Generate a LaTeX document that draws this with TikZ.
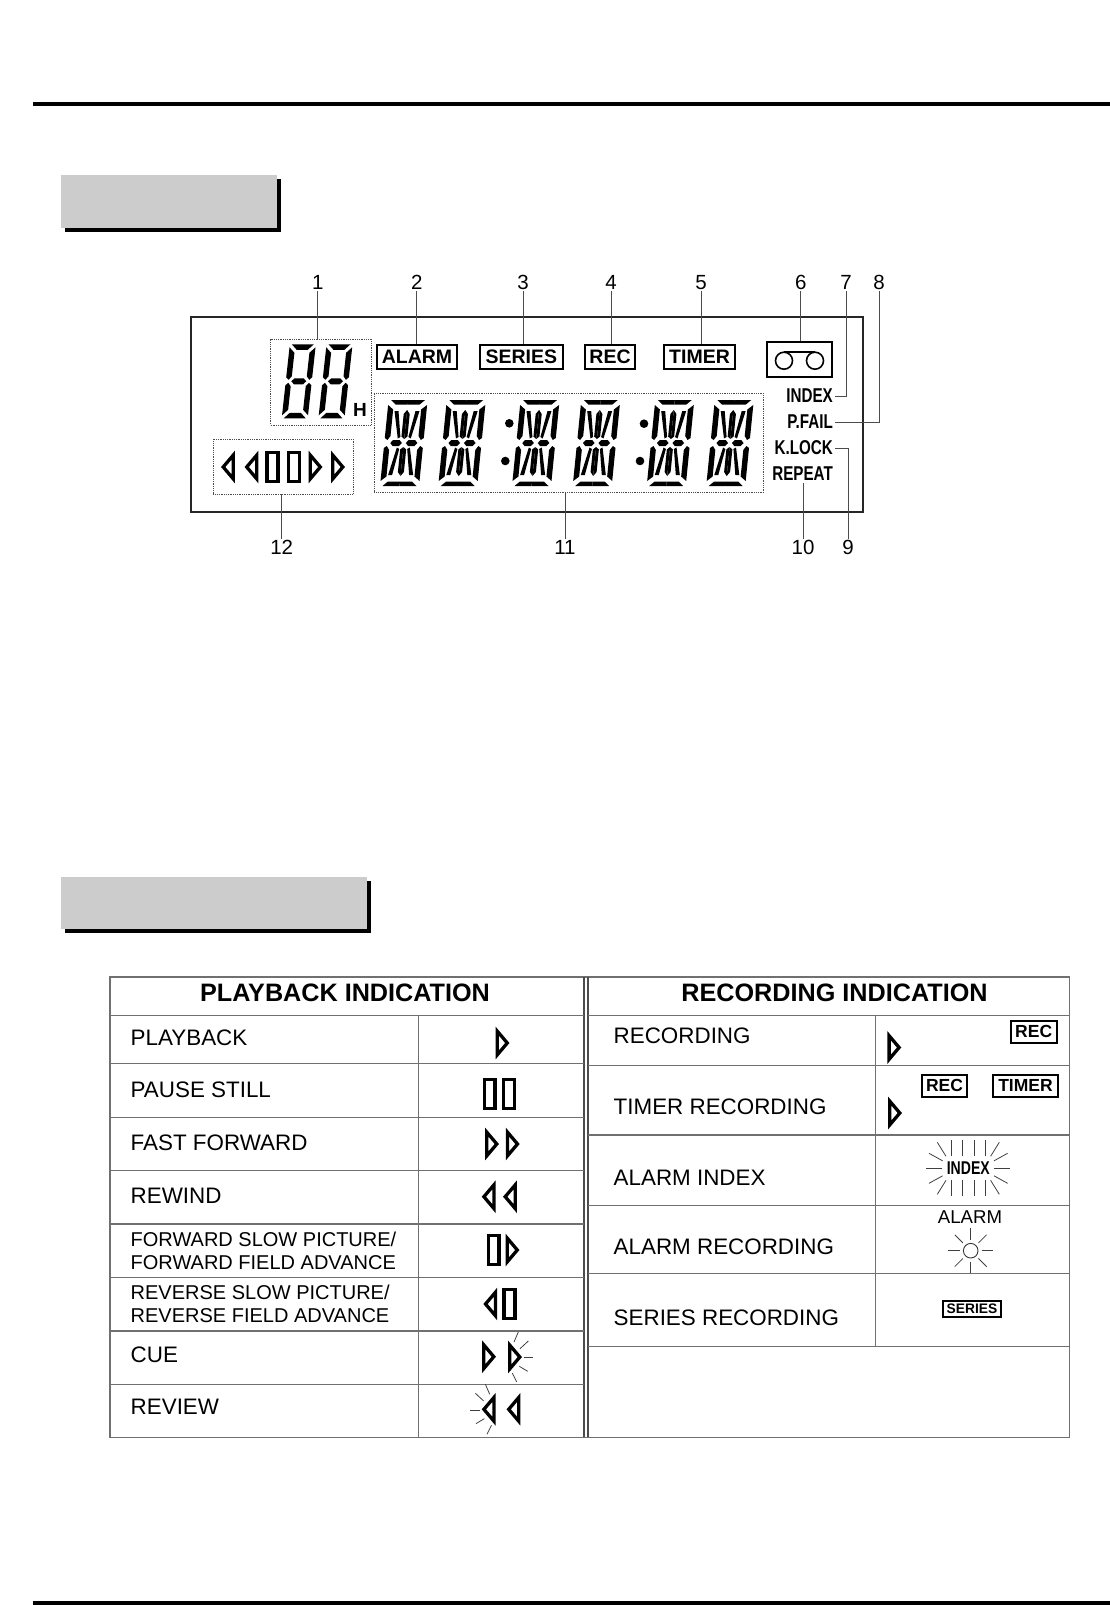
\documentclass[tikz,border=0pt]{standalone}
\usepackage{fontspec}
\setmainfont{Liberation Sans}
\newfontfamily\condfont[FakeStretch=0.76,BoldFont={Liberation Sans Bold}]{Liberation Sans}
\usetikzlibrary{calc,positioning}

\definecolor{rulegray}{HTML}{707070}
\definecolor{bargray}{HTML}{CCCCCC}

% playback symbols, centre given
\newcommand{\tapetri}[3]{\draw[iconline] ($(#1,#2)+(#3*-5.2,-11.8)$) -- ($(#1,#2)+(#3*4.8,0)$) -- ($(#1,#2)+(#3*-5.2,11.8)$) -- cycle;}
\newcommand{\taperect}[2]{\draw[iconline] ($(#1,#2)+(-5.4,-14.4)$) rectangle ($(#1,#2)+(5.4,14.4)$);}
\newcommand{\blinkrays}[3]{\begin{scope}[shift={(#1,#2)},xscale=#3]
  \draw[rayline] (-1,-15) -- (3.3,-25);
  \draw[rayline] (5,-8.3) -- (13.3,-16);
  \draw[rayline] (9,0.7) -- (18.3,0.7);
  \draw[rayline] (4.3,9.3) -- (12.7,14.3);
  \draw[rayline] (-2.7,16) -- (1.7,25);
\end{scope}}

% seven segment figure, bottom left corner given
\newcommand{\sevenseg}[2]{\begin{scope}[shift={(#1,#2)},xslant=.11,y=1pt]
  \fill (2,74) -- (24,74) -- (18.5,68.5) -- (7.5,68.5) -- cycle;
  \fill (2,0) -- (24,0) -- (18.5,5.5) -- (7.5,5.5) -- cycle;
  \fill (5.5,37) -- (8.5,40) -- (17.5,40) -- (20.5,37) -- (17.5,34) -- (8.5,34) -- cycle;
  \foreach \mx/\off in {1/0,-1/26}{
    \fill ($(\off,0)+(\mx*0,71)$) -- ($(\off,0)+(\mx*5.5,65.5)$) -- ($(\off,0)+(\mx*5.5,42)$) -- ($(\off,0)+(\mx*2.7,38.5)$) -- ($(\off,0)+(\mx*0,41)$) -- cycle;
    \fill ($(\off,0)+(\mx*0,3)$) -- ($(\off,0)+(\mx*5.5,8.5)$) -- ($(\off,0)+(\mx*5.5,32)$) -- ($(\off,0)+(\mx*2.7,35.5)$) -- ($(\off,0)+(\mx*0,33)$) -- cycle;
  }
\end{scope}}

% sixteen segment figure, centre given
\newcommand{\alnumseg}[2]{\begin{scope}[shift={(#1,#2)},xslant=.1,y=1pt]
  \foreach \mx in {1,-1}{\foreach \my in {1,-1}{
    \begin{scope}[xscale=\mx,yscale=\my]
      \fill (0,43) -- (17,43) -- (12,38.5) -- (0,38.5) -- cycle;
      \fill (19.5,38) -- (14,33.5) -- (14,7) -- (16.7,3) -- (19.5,5) -- cycle;
      \fill (0,33) -- (3,29) -- (3,6.5) -- (0,4) -- cycle;
      \fill (12.5,32) -- (8.5,32) -- (4,6) -- (6.5,4.5) -- cycle;
      \fill (2,0) -- (4.5,3) -- (11,3) -- (13.5,0) -- cycle;
    \end{scope}
  }}
\end{scope}}

\begin{document}
\begin{tikzpicture}[x=1pt,y=-1pt,
    iconline/.style={draw=black, line width=3.3pt, line join=miter},
    rayline/.style={draw=black!75, line width=.8pt},
    gridline/.style={draw=rulegray, line width=1.2pt},
    leader/.style={draw=black!70, line width=.9pt},
    callout/.style={inner sep=1pt, font=\fontsize{20.5}{21}\selectfont},
    lcdbox/.style={draw=black, line width=2pt, inner sep=0pt, minimum height=23.5pt, font=\fontsize{19.5}{20}\selectfont\bfseries},
    smallbox/.style={lcdbox, minimum height=22pt, font=\fontsize{17.5}{18}\selectfont\bfseries},
    dotbox/.style={draw=black!70, line width=.8pt, densely dotted, inner sep=0pt},
    flag/.style={inner sep=1.5pt, anchor=east, font=\fontsize{20}{20}\selectfont\condfont\bfseries},
    rowtext/.style={inner sep=0pt, anchor=west, align=left, font=\fontsize{22.4}{22.4}\selectfont},
    rowsmall/.style={rowtext, font=\fontsize{20}{23}\selectfont},
    tabletitle/.style={inner sep=0pt, font=\fontsize{25.2}{26}\selectfont\bfseries}]
\useasboundingbox (0,0) rectangle (1110,1605);

% page rules and blank heading bars
\fill (33,102) rectangle (1110,106);
\fill (33,1601) rectangle (1110,1605);
\fill (65,179) rectangle (281,232);
\fill[bargray] (61,175) rectangle (277,228);
\fill (65,881) rectangle (371,933);
\fill[bargray] (61,877) rectangle (367,929);

% display panel
\draw[draw=black!85, line width=1.7pt] (191,317) rectangle (863,512);

\node[dotbox, minimum width=100.6pt, minimum height=85.7pt] (hourbox) at (321,382.2) {};
\node[dotbox, minimum width=140pt, minimum height=54.7pt] (transportbox) at (283.3,466.7) {};
\node[dotbox, minimum width=389pt, minimum height=99.4pt] (clockbox) at (568.8,443) {};

\node[lcdbox, minimum width=80.6pt] (alarm) at (417,357) {ALARM};
\node[lcdbox, minimum width=82.7pt] (series) at (521.3,357) {SERIES};
\node[lcdbox, minimum width=50pt] (rec) at (610,357) {REC};
\node[lcdbox, minimum width=71pt] (timer) at (699.5,357) {TIMER};
\node[draw=black, line width=2pt, minimum width=65pt, minimum height=35pt, inner sep=0pt] (tape) at (799.8,359.8) {};
\draw[line width=1.6pt] (784,360.7) circle (8.5) (815,360.7) circle (8.5);
\draw[line width=1.6pt] (784,352.2) -- (815,352.2);

\node[flag] (index) at (834.5,396) {INDEX};
\node[flag] (pfail) at (834.5,422) {P.FAIL};
\node[flag] (klock) at (834.5,448) {K.LOCK};
\node[flag] (repeat) at (834.5,474) {REPEAT};

\sevenseg{281.7}{418.3}
\sevenseg{318.4}{418.3}
\node[inner sep=0pt, font=\fontsize{19}{20}\selectfont\bfseries] (hourmark) at (360,409.5) {H};

\foreach \px in {403.8,462,535.8,596.5,670.5,730}{\alnumseg{\px}{443}}
\fill (509.3,423.3) circle (4.3) (505.3,461) circle (4.3);
\fill (644,423.7) circle (4.3) (640,461) circle (4.3);

\tapetri{228}{467}{-1}
\tapetri{251.5}{467}{-1}
\taperect{272.5}{467}
\taperect{294.2}{467}
\tapetri{315.5}{467}{1}
\tapetri{338}{467}{1}

% callout numbers
\node[callout] (n1) at (317.7,282.7) {1};
\node[callout] (n2) at (416.7,282.7) {2};
\node[callout] (n3) at (523,282.7) {3};
\node[callout] (n4) at (611,282.7) {4};
\node[callout] (n5) at (701,282.7) {5};
\node[callout] (n6) at (800.7,282.7) {6};
\node[callout] (n7) at (846,282.7) {7};
\node[callout] (n8) at (879,282.7) {8};
\node[callout] (n9) at (848,547) {9};
\node[callout] (n10) at (803,547) {10};
\node[callout] (n11) at (565,547) {11};
\node[callout] (n12) at (281.7,547) {12};
\coordinate (repeatend) at (803,483);

\draw[leader] (n1) -- (n1 |- hourbox.north);
\draw[leader] (n2) -- (n2 |- alarm.north);
\draw[leader] (n3) -- (n3 |- series.north);
\draw[leader] (n4) -- (n4 |- rec.north);
\draw[leader] (n5) -- (n5 |- timer.north);
\draw[leader] (n6) -- (n6 |- tape.north);
\draw[leader] (n7) |- (index.east);
\draw[leader] (n8) |- (pfail.east);
\draw[leader] (n9) |- (klock.east);
\draw[leader] (n10) -- (repeatend);
\draw[leader] (n11) -- (n11 |- clockbox.south);
\draw[leader] (n12) -- (n12 |- transportbox.south);

% indication table
\draw[gridline] (110,977) rectangle (1069.3,1437.3);
\draw[draw=black!70, line width=2pt] (584,977) -- (584,1437.3);
\draw[draw=black!70, line width=1.3pt] (588,977) -- (588,1437.3);
\draw[gridline] (110,1015.7) -- (584,1015.7) (588,1015.7) -- (1069.3,1015.7);
\foreach \rowy in {1063.3,1117.3,1170.7,1224,1277.3,1331,1384.3}
  \draw[gridline] (110,\rowy) -- (584,\rowy);
\foreach \rowy in {1065.7,1135,1205.7,1273.3,1346.7}
  \draw[gridline] (588,\rowy) -- (1069.3,\rowy);
\draw[gridline] (418.3,1015.7) -- (418.3,1437.3);
\draw[gridline] (875.7,1015.7) -- (875.7,1346.7);

\node[tabletitle] (playtitle) at (345,992.5) {PLAYBACK INDICATION};
\node[tabletitle] (rectitle) at (834.5,992.5) {RECORDING INDICATION};

\node[rowtext] (playback) at (130.5,1037.7) {PLAYBACK};
\node[rowtext] (pause) at (130.5,1090) {PAUSE STILL};
\node[rowtext] (fastfwd) at (130.5,1142.7) {FAST FORWARD};
\node[rowtext] (rewind) at (130.5,1195.7) {REWIND};
\node[rowsmall] (fwdslow) at (130.5,1250.5) {FORWARD SLOW PICTURE/\\FORWARD FIELD ADVANCE};
\node[rowsmall] (revslow) at (130.5,1303.5) {REVERSE SLOW PICTURE/\\REVERSE FIELD ADVANCE};
\node[rowtext] (cue) at (130.5,1355) {CUE};
\node[rowtext] (review) at (130.5,1407) {REVIEW};

\node[rowtext] (recording) at (613.5,1036) {RECORDING};
\node[rowtext] (timerrec) at (613.5,1107) {TIMER RECORDING};
\node[rowtext] (alarmindex) at (613.5,1177.6) {ALARM INDEX};
\node[rowtext] (alarmrec) at (613.5,1247) {ALARM RECORDING};
\node[rowtext] (seriesrec) at (613.5,1318) {SERIES RECORDING};

% symbols of the left column
\tapetri{502.5}{1043}{1}
\taperect{489.7}{1094}
\taperect{508.8}{1094}
\tapetri{492}{1144}{1}
\tapetri{512.7}{1144}{1}
\tapetri{488.7}{1196.7}{-1}
\tapetri{510}{1196.7}{-1}
\taperect{493.7}{1250}
\tapetri{512.5}{1250}{1}
\tapetri{490.3}{1304}{-1}
\taperect{509.5}{1304}
\tapetri{489}{1356.7}{1}
\tapetri{515}{1357}{1}
\blinkrays{515}{1357}{1}
\tapetri{488.7}{1409.3}{-1}
\tapetri{513.5}{1409.3}{-1}
\blinkrays{488.7}{1409.3}{-1}

% symbols of the right column
\node[smallbox, minimum width=46pt] (rec1) at (1033.7,1031.8) {REC};
\tapetri{894.3}{1047.5}{1}
\node[smallbox, minimum width=45.6pt] (rec2) at (944.5,1085.5) {REC};
\node[smallbox, minimum width=65.6pt] (timer2) at (1025.5,1085.5) {TIMER};
\tapetri{895}{1113}{1}

\node[inner sep=0pt, font=\fontsize{18.5}{19}\selectfont\condfont\bfseries] (indexflash) at (968.3,1168.3) {INDEX};
\begin{scope}[shift={(968.3,1168.3)}]
  \foreach \mx in {1,-1}{
    \draw[rayline] (\mx*26,0) -- (\mx*42,0);
    \foreach \my in {1,-1}{
      \draw[rayline] (\mx*5.8,\my*12) -- (\mx*5.8,\my*28);
      \draw[rayline] (\mx*17.2,\my*12) -- (\mx*17.2,\my*28);
      \draw[rayline] (\mx*22.3,\my*12) -- (\mx*31,\my*26);
      \draw[rayline] (\mx*25.7,\my*7.5) -- (\mx*39.3,\my*15);
    }
  }
\end{scope}

\node[inner sep=0pt, font=\fontsize{18.6}{19}\selectfont] (alarmflash) at (970,1217.3) {ALARM};
\node[draw=black!80, circle, line width=.9pt, minimum size=14.6pt, inner sep=0pt] (lamp) at (970.7,1250.7) {};
\foreach \ang in {0,45,...,315}
  \draw[rayline] ($(lamp)+(\ang:11)$) -- ($(lamp)+(\ang:22.5)$);

\node[draw=black, line width=1.8pt, inner sep=0pt, minimum width=58.6pt, minimum height=16.6pt, font=\fontsize{13.8}{14}\selectfont\bfseries] (seriesmark) at (972,1309) {SERIES};
\end{tikzpicture}
\end{document}
